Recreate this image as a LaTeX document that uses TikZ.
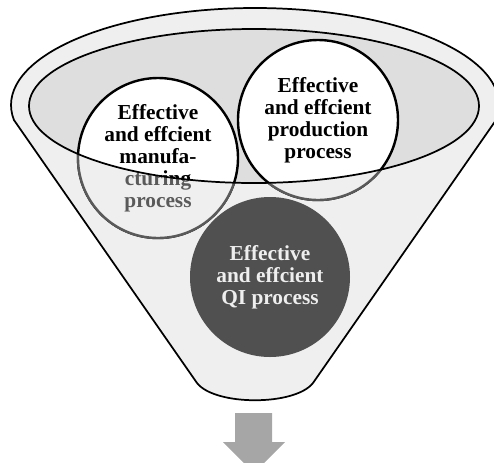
\documentclass[tikz,border=0pt]{standalone}
\usepackage{fontspec}
\setmainfont{Liberation Serif}
\definecolor{funnelgray}{HTML}{EFEFEF}
\definecolor{rimgray}{HTML}{DEDEDE}
\definecolor{fadegray}{HTML}{5A5A5A}
\definecolor{qigray}{HTML}{505050}
\definecolor{qitext}{HTML}{EEEEEE}
\definecolor{arrowgray}{HTML}{A6A6A6}

\tikzstyle{proc} = [circle, draw, line width=1.8pt, minimum size=120pt, inner sep=0pt, align=center, font=\fontsize{16}{16.5}\selectfont\bfseries]
\tikzstyle{rim} = [line width=1.3pt, line join=round]

\begin{document}
\begin{tikzpicture}[x=0.75pt,y=0.75pt]
\useasboundingbox (0,0) rectangle (494,-462);
%funnel
\filldraw[rim, fill=funnelgray] (13.94,-120) -- (197,-383) .. controls (215,-406) and (295,-406) .. (313,-383) -- (496.06,-120)
  arc[start angle=-8.9, end angle=188.9, x radius=244, y radius=97] -- cycle;
\fill[rimgray] (254,-106) ellipse [x radius=225, y radius=77];

%processes
\node[proc, fill=white] (manu) at (158,-158) {Effective\\and effcient\\manufa-\\cturing\\process};
\node[proc, fill=white] (prod) at (318,-120) {Effective\\and effcient\\production\\process};

%parts below the rim
\begin{scope}[even odd rule]
\clip (0,0) rectangle (494,-462) (254,-106) ellipse [x radius=225, y radius=77];
\node[proc, fill=funnelgray, draw=fadegray, text=fadegray] (manulow) at (158,-158) {Effective\\and effcient\\manufa-\\cturing\\process};
\node[proc, fill=funnelgray, draw=fadegray, text=fadegray] (prodlow) at (318,-120) {Effective\\and effcient\\production\\process};
\end{scope}
\draw[rim] (254,-106) ellipse [x radius=225, y radius=77];

\node[proc, draw=none, fill=qigray, text=qitext] (qi) at (270,-277) {Effective\\and effcient\\QI process};

%arrow
\fill[arrowgray] (235,-413) -- (272,-413) -- (272,-442) -- (285,-442) -- (254,-473) -- (223,-442) -- (235,-442) -- cycle;
\end{tikzpicture}
\end{document}
